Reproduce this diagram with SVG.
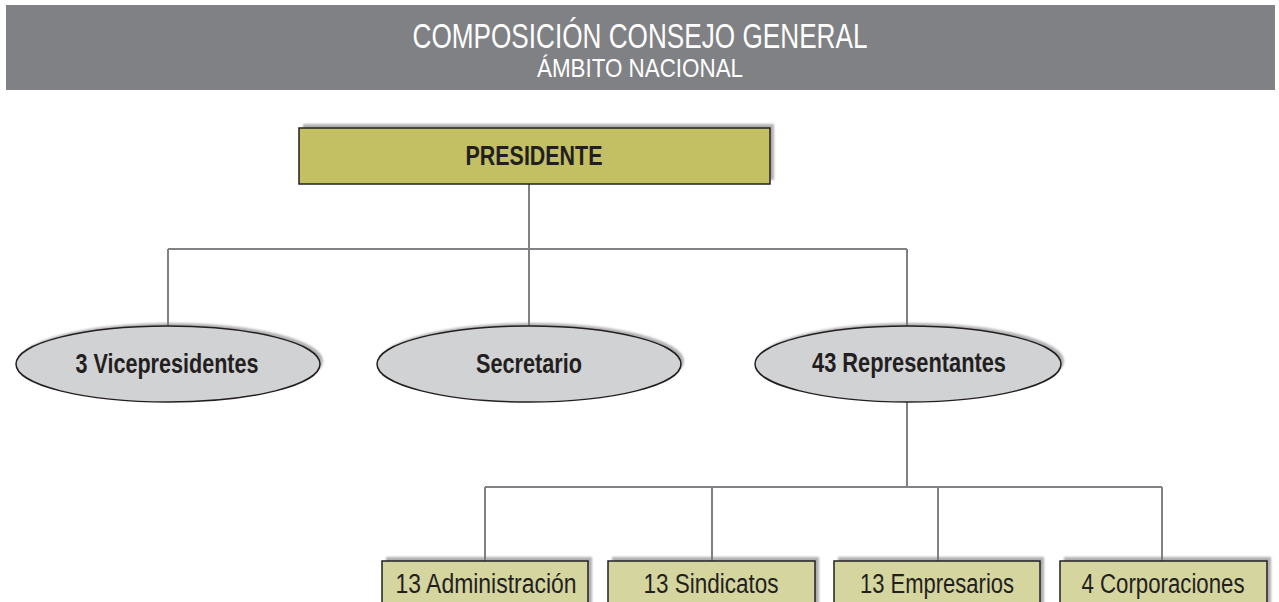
<svg xmlns="http://www.w3.org/2000/svg" width="1279" height="602" viewBox="0 0 1279 602">
<defs>
<filter id="sh" x="-10%" y="-30%" width="120%" height="160%"><feGaussianBlur stdDeviation="1.2"/></filter>
</defs>
<style>
.hdr{fill:#808184}
.t{font-family:"Liberation Sans",Arial,sans-serif;fill:#ffffff;text-anchor:middle}
.lbl{font-family:"Liberation Sans",Arial,sans-serif;fill:#231f20;text-anchor:middle}
.b{font-weight:bold}
.shadow{fill:#7a7b7e;opacity:0.6;filter:url(#sh)}
.pres{fill:#c2c063;stroke:#231f20;stroke-width:1.5}
.ell{fill:#d1d2d4;stroke:#231f20;stroke-width:1.5}
.sub{fill:#d5d5a0;stroke:#231f20;stroke-width:1.5}
.conn{fill:none;stroke:#808184;stroke-width:2}
</style>
<g id="header">
<rect class="hdr" x="6" y="5" width="1269" height="85"/>
<text class="t" x="640" y="48" font-size="35" textLength="455" lengthAdjust="spacingAndGlyphs">COMPOSICIÓN CONSEJO GENERAL</text>
<text class="t" x="640" y="77" font-size="25" textLength="206" lengthAdjust="spacingAndGlyphs">ÁMBITO NACIONAL</text>
</g>
<g id="connectors">
<path class="conn" d="M529 184V249M168 249H907M168 249V326M529 249V326M907 249V326"/>
<path class="conn" d="M907 402V487M485 487H1162M485 487V561M712 487V561M938 487V561M1162 487V561"/>
</g>
<g id="presidente">
<rect class="shadow" x="303" y="124" width="471" height="56"/>
<rect class="pres" x="299" y="128" width="471" height="56"/>
<text class="lbl b" x="534" y="165" font-size="27" textLength="137" lengthAdjust="spacingAndGlyphs">PRESIDENTE</text>
</g>
<g id="vicepresidentes">
<ellipse class="shadow" cx="171" cy="361" rx="152" ry="38"/>
<ellipse class="ell" cx="168" cy="364" rx="152" ry="38"/>
<text class="lbl b" x="167" y="373" font-size="28" textLength="183" lengthAdjust="spacingAndGlyphs">3 Vicepresidentes</text>
</g>
<g id="secretario">
<ellipse class="shadow" cx="532" cy="361" rx="152" ry="38"/>
<ellipse class="ell" cx="529" cy="364" rx="152" ry="38"/>
<text class="lbl b" x="529" y="373" font-size="28" textLength="106" lengthAdjust="spacingAndGlyphs">Secretario</text>
</g>
<g id="representantes">
<ellipse class="shadow" cx="911" cy="361" rx="153" ry="38"/>
<ellipse class="ell" cx="908" cy="364" rx="153" ry="38"/>
<text class="lbl b" x="909" y="372" font-size="28" textLength="194" lengthAdjust="spacingAndGlyphs">43 Representantes</text>
</g>
<g id="administracion">
<rect class="shadow" x="386" y="557" width="206" height="60"/>
<rect class="sub" x="382" y="561" width="206" height="56"/>
<text class="lbl" x="486" y="593" font-size="27" textLength="181" lengthAdjust="spacingAndGlyphs">13 Administración</text>
</g>
<g id="sindicatos">
<rect class="shadow" x="612" y="557" width="207" height="60"/>
<rect class="sub" x="608" y="561" width="207" height="56"/>
<text class="lbl" x="711" y="593" font-size="27" textLength="135" lengthAdjust="spacingAndGlyphs">13 Sindicatos</text>
</g>
<g id="empresarios">
<rect class="shadow" x="838" y="557" width="206" height="60"/>
<rect class="sub" x="834" y="561" width="206" height="56"/>
<text class="lbl" x="937" y="593" font-size="27" textLength="154" lengthAdjust="spacingAndGlyphs">13 Empresarios</text>
</g>
<g id="corporaciones">
<rect class="shadow" x="1064" y="557" width="207" height="60"/>
<rect class="sub" x="1060" y="561" width="207" height="56"/>
<text class="lbl" x="1163" y="593" font-size="27" textLength="163" lengthAdjust="spacingAndGlyphs">4 Corporaciones</text>
</g>
</svg>
